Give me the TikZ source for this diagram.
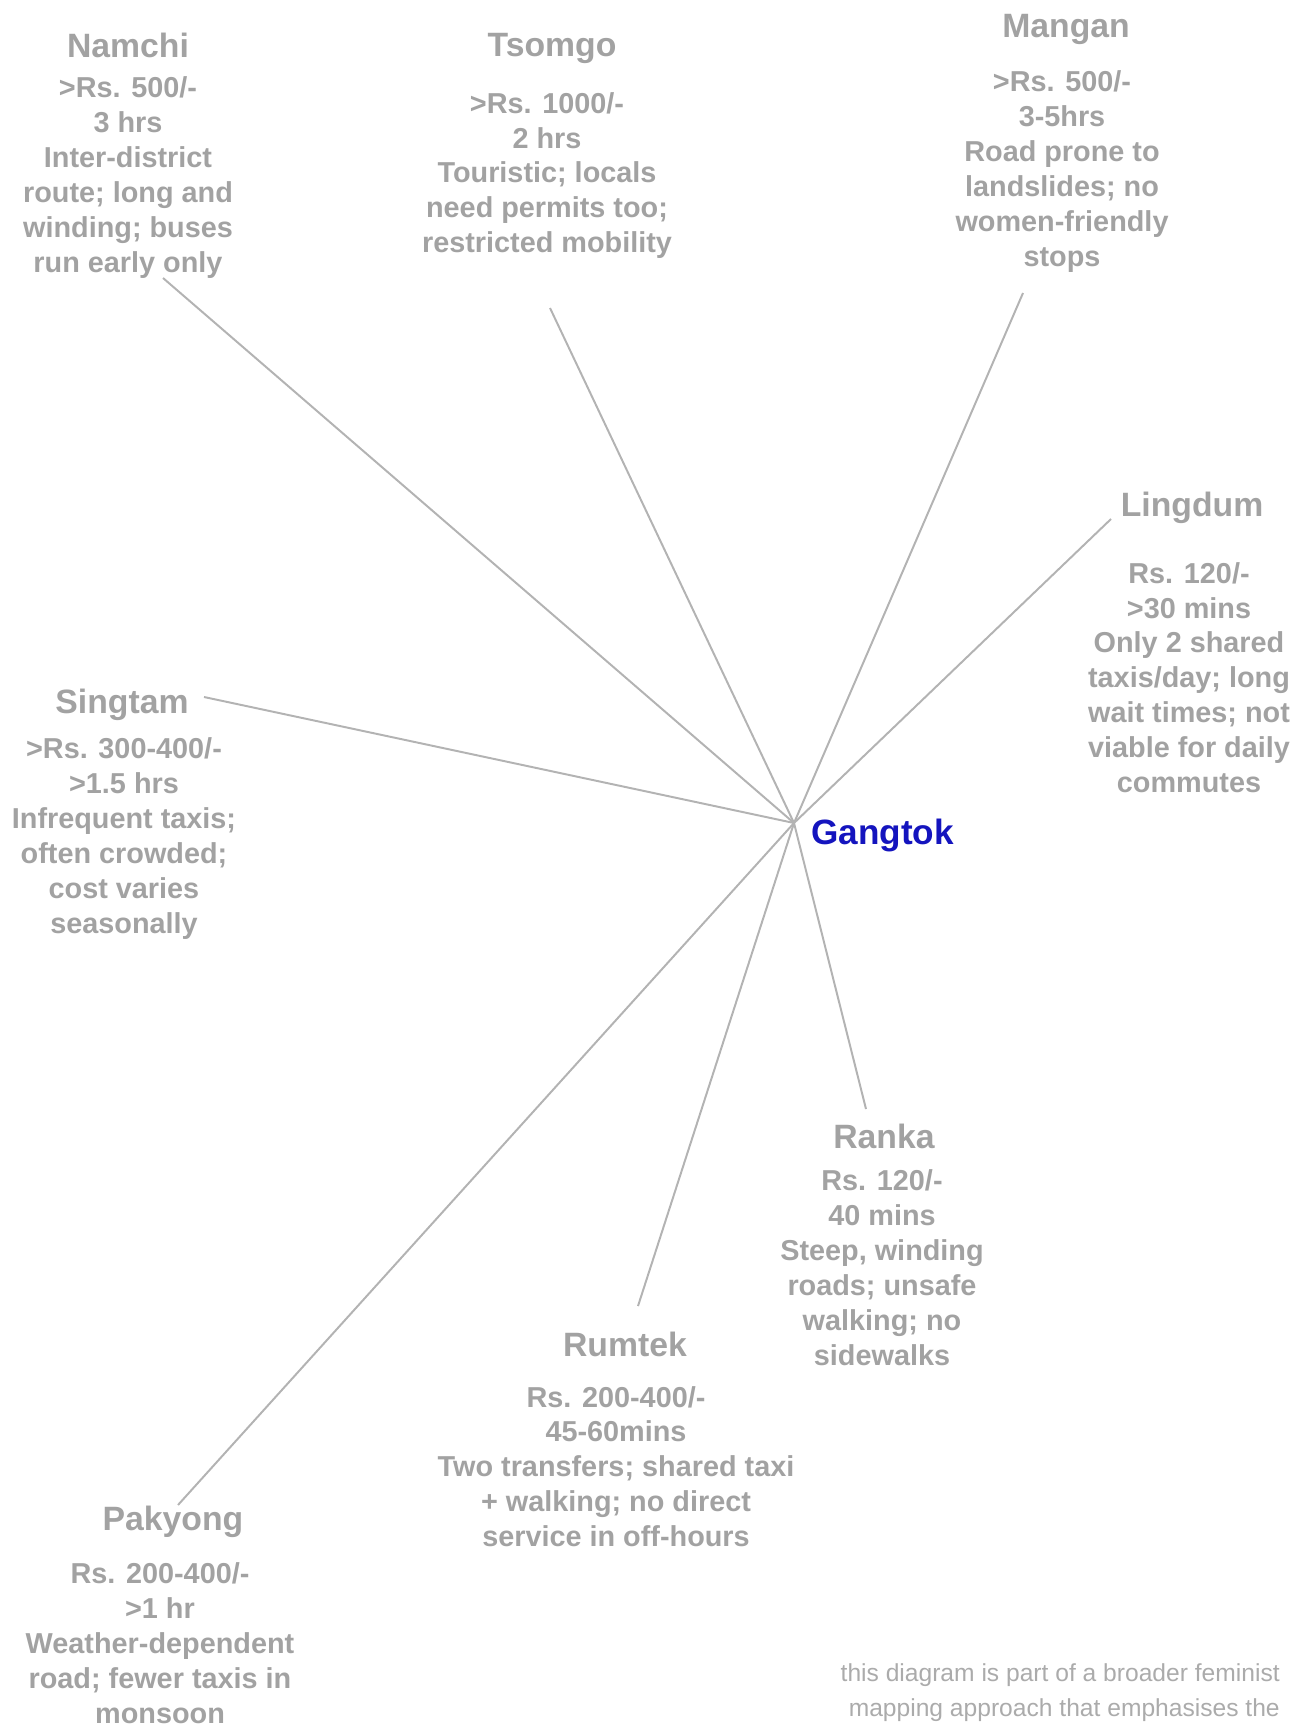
\documentclass[tikz,border=0pt]{standalone}
\usepackage{fontspec}
\setmainfont{Liberation Sans}
\usetikzlibrary{positioning}
\definecolor{stone}{HTML}{A2A2A2}
\definecolor{road}{HTML}{B3B3B3}
\definecolor{capital}{HTML}{1414BE}
\definecolor{notegray}{HTML}{ABABAB}
\tikzset{
  placename/.style={
    text=stone, inner sep=0pt,
    font=\fontsize{24}{28}\selectfont\bfseries
  },
  placeinfo/.style={
    text=stone, inner sep=0pt, align=center,
    font=\fontsize{20.5}{24.8}\selectfont\bfseries
  },
  hubname/.style={
    text=capital, inner sep=0pt,
    font=\fontsize{25}{30}\selectfont\bfseries
  },
  routeline/.style={
    draw=road, line width=1.4pt
  },
  footnote/.style={
    text=notegray, inner sep=0pt, align=right,
    font=\fontsize{17.5}{24.8}\selectfont
  },
}

\begin{document}
\begin{tikzpicture}[x=0.025cm, y=-0.025cm]
  \useasboundingbox (0,0) rectangle (1294,1726);

  % hub
  \coordinate (hub) at (794,823);
  \node[hubname, anchor=west] at (811,835.5) (gangtok) {Gangtok};

  % places round the hub
  \node[placename] at (128,45.5) (namchi) {Namchi};
  \node[placeinfo] at (128,177.5) (namchiinfo) {>Rs. 500/-\\3 hrs\\Inter-district\\route; long and\\winding; buses\\run early only};

  \node[placename] at (552,48.5) (tsomgo) {Tsomgo};
  \node[placeinfo] at (547,175.5) (tsomgoinfo) {>Rs. 1000/-\\2 hrs\\Touristic; locals\\need permits too;\\restricted mobility};

  \node[placename] at (1066,29.5) (mangan) {Mangan};
  \node[placeinfo] at (1062,171.5) (manganinfo) {>Rs. 500/-\\3-5hrs\\Road prone to\\landslides; no\\women-friendly\\stops};

  \node[placename] at (1192,507.5) (lingdum) {Lingdum};
  \node[placeinfo] at (1189,677.5) (lingduminfo) {Rs. 120/-\\>30 mins\\Only 2 shared\\taxis/day; long\\wait times; not\\viable for daily\\commutes};

  \node[placename] at (122,704.5) (singtam) {Singtam};
  \node[placeinfo] at (124,838.5) (singtaminfo) {>Rs. 300-400/-\\>1.5 hrs\\Infrequent taxis;\\often crowded;\\cost varies\\seasonally};

  \node[placename] at (884,1136.5) (ranka) {Ranka};
  \node[placeinfo] at (882,1267.5) (rankainfo) {Rs. 120/-\\40 mins\\Steep, winding\\roads; unsafe\\walking; no\\sidewalks};

  \node[placename] at (625,1344.5) (rumtek) {Rumtek};
  \node[placeinfo] at (616,1466.5) (rumtekinfo) {Rs. 200-400/-\\45-60mins\\Two transfers; shared taxi\\+ walking; no direct\\service in off-hours};

  \node[placename] at (173,1521.5) (pakyong) {Pakyong};
  \node[placeinfo] at (160,1643) (pakyonginfo) {Rs. 200-400/-\\>1 hr\\Weather-dependent\\road; fewer taxis in\\monsoon};

  % loose ends of the roads
  \coordinate (namchiend) at (163,278);
  \coordinate (tsomgoend) at (550,308);
  \coordinate (manganend) at (1023,293);
  \coordinate (lingdumend) at (1111,519);
  \coordinate (singtamend) at (204,697);
  \coordinate (rankaend) at (866,1109);
  \coordinate (rumtekend) at (638,1306);
  \coordinate (pakyongend) at (178,1505);

  \draw[routeline] (hub) -- (namchiend);
  \draw[routeline] (hub) -- (tsomgoend);
  \draw[routeline] (hub) -- (manganend);
  \draw[routeline] (hub) -- (lingdumend);
  \draw[routeline] (hub) -- (singtamend);
  \draw[routeline] (hub) -- (rankaend);
  \draw[routeline] (hub) -- (rumtekend);
  \draw[routeline] (hub) -- (pakyongend);

  \node[footnote, anchor=north east] at (1280,1663.5) (note) {this diagram is part of a broader feminist\\mapping approach that emphasises the};
\end{tikzpicture}
\end{document}
